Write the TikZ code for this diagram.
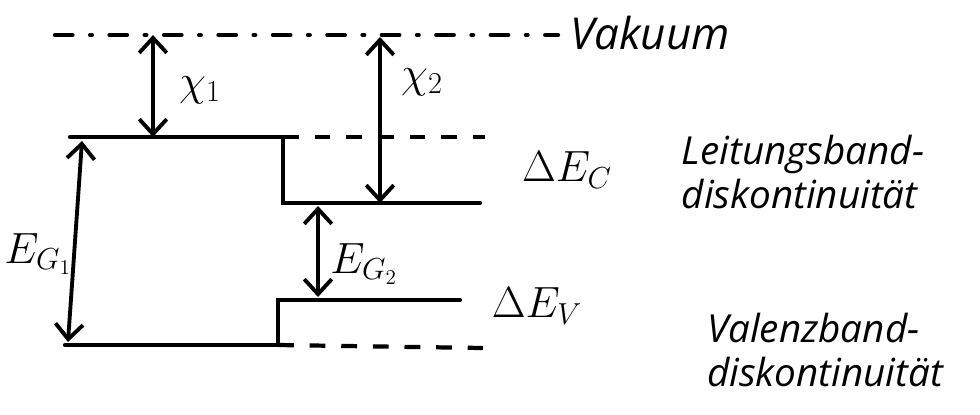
\documentclass[tikz,border=0pt]{standalone}
\usepackage{fontspec}
\setmainfont{Open Sans}
\usepackage{amsmath}
\usetikzlibrary{arrows.meta,positioning}

\begin{document}
\begin{tikzpicture}[
    x=0.02cm, y=0.02cm,
    band/.style={line width=2.4pt, line cap=round},
    bandext/.style={line width=2.4pt, dash pattern=on 9pt off 9pt},
    vacline/.style={line width=2.4pt, dash pattern=on 10pt off 10pt on 1pt off 10pt, line cap=round},
    energy/.style={line width=2.2pt, {Straight Barb[length=3mm,width=5.5mm]}-{Straight Barb[length=3mm,width=5.5mm]}},
    sym/.style={font=\fontsize{25}{27}\selectfont},
    note/.style={align=left, font=\itshape\fontsize{22}{25}\selectfont}
]
\useasboundingbox (0,0) rectangle (980,414);

% Band corners
\coordinate (vacL) at (55,379);
\coordinate (vacR) at (558,379);
\coordinate (cbA) at (70,277);
\coordinate (cbB) at (283,277);
\coordinate (cbC) at (283,211);
\coordinate (cbD) at (480,211);
\coordinate (cbE) at (485,277);
\coordinate (vbA) at (65,69);
\coordinate (vbB) at (278,69);
\coordinate (vbC) at (278,114);
\coordinate (vbD) at (460,114);
\coordinate (vbE) at (483,66);

% Arrow ends
\coordinate (chiAtop) at (153,379);
\coordinate (chiAbot) at (153,277);
\coordinate (chiBtop) at (380,377);
\coordinate (chiBbot) at (380,211);
\coordinate (egAtop) at (82,273);
\coordinate (egAbot) at (68,72);
\coordinate (egBtop) at (318,208);
\coordinate (egBbot) at (318,117);

% Levels
\draw[vacline] (vacL) -- (vacR);
\draw[band] (cbA) -- (cbB) -- (cbC) -- (cbD);
\draw[bandext] (cbB) -- (cbE);
\draw[band] (vbA) -- (vbB) -- (vbC) -- (vbD);
\draw[bandext] (vbB) -- (vbE);

% Energy differences
\draw[energy] (chiAbot) -- (chiAtop);
\draw[energy] (chiBbot) -- (chiBtop);
\draw[energy] (egAtop) -- (egAbot);
\draw[energy] (egBtop) -- (egBbot);

% Labels
\node[sym] (chiA) at (200,324) {$\chi_1$};
\node[sym] (chiB) at (422,332) {$\chi_2$};
\node[sym] (egA) at (38,160) {$E_{G_1}$};
\node[sym] (egB) at (364,150) {$E_{G_2}$};
\node[sym] (dec) at (567,244) {$\Delta E_C$};
\node[sym] (dev) at (537,108) {$\Delta E_V$};
\node[note, font=\itshape\fontsize{25}{27}\selectfont] (vak) at (650,381) {Vakuum};
\node[note] (lb) at (803,242) {Leitungsband-\\diskontinuität};
\node[note] (vb) at (825,64) {Valenzband-\\diskontinuität};

\end{tikzpicture}
\end{document}
